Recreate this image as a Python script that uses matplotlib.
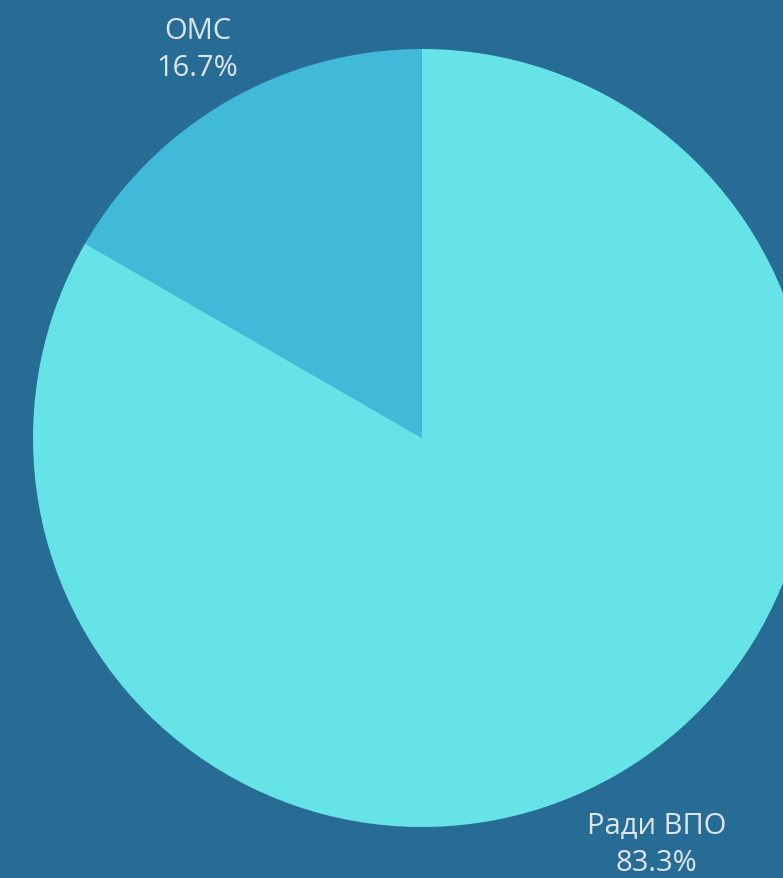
# Pie chart: ОМС vs Ради ВПО

import numpy as np
import matplotlib.pyplot as plt

names = ["ОМС", "Ради ВПО"]
values = [1, 5]
colors = ["#41b9d9", "#66e3e6"]
label_dist = [1.155, 1.205]

bg = "#276c94"
total = sum(values)
labels = [f"{n}\n{v / total * 100:.1f}%" for n, v in zip(names, values)]

fig = plt.figure(figsize=(7.83, 8.79), dpi=100, facecolor=bg)
ax = fig.add_axes([0, 0, 1, 1])
ax.set_facecolor(bg)

cx, cy, r = 422, 440, 389
wedges, _ = ax.pie(values, colors=colors, startangle=90, counterclock=True,
                   center=(cx, cy), radius=r, frame=True)

# labels outside each wedge
for w, lab, d in zip(wedges, labels, label_dist):
    ang = np.deg2rad((w.theta1 + w.theta2) / 2)
    ax.text(cx + d * r * np.cos(ang), cy + d * r * np.sin(ang), lab,
            ha="center", va="center", color="#dde6ec", fontsize=21,
            family="Open Sans", linespacing=1.35)

ax.set_xlim(0, 783)
ax.set_ylim(0, 879)
ax.set_aspect("equal")
ax.axis("off")

fig.savefig("out.png", dpi=100, facecolor=bg)
